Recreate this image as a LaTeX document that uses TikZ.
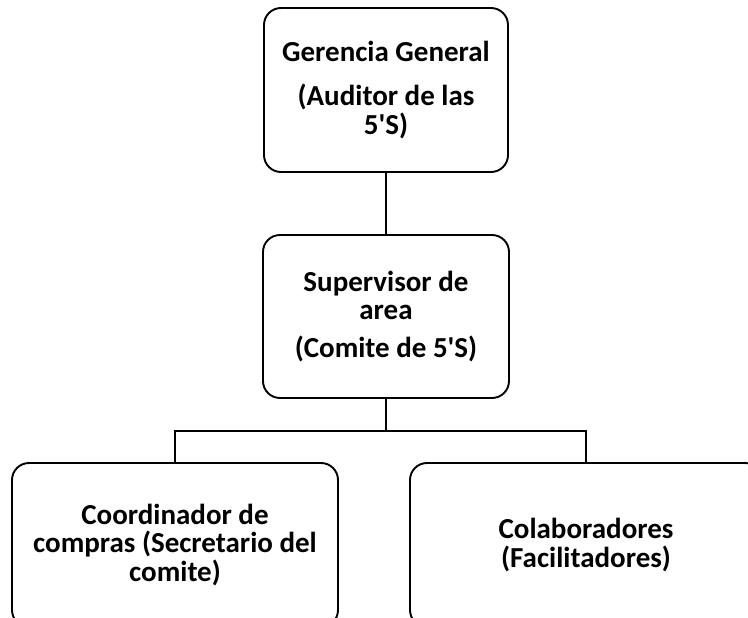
\documentclass[tikz,border=0pt]{standalone}
\usepackage{fontspec}
\setmainfont{Carlito}[Ligatures=TeXOff]
\begin{document}
\begin{tikzpicture}[x=1pt,y=-1pt,
  box/.style={draw=black,line width=1.9pt,rounded corners=17pt,rectangle,
    align=center,inner sep=0pt,
    font=\fontsize{29}{28.5}\selectfont\bfseries},
  link/.style={draw=black,line width=1.9pt}]
\useasboundingbox (0,0) rectangle (748,618);
\clip (0,0) rectangle (748,618);
\fill[white] (0,0) rectangle (748,618);
\node[box,minimum width=244pt,minimum height=164pt] (top) at (386,90)
  {Gerencia General\\[16pt](Auditor de las\\5'S)};
\node[box,minimum width=246pt,minimum height=163pt] (mid) at (386,316.5)
  {Supervisor de\\area\\[9pt](Comite de 5'S)};
\node[box,minimum width=326pt,minimum height=164pt] (left) at (175,545)
  {Coordinador de\\compras (Secretario del\\comite)};
\node[box,minimum width=352pt,minimum height=164pt] (right) at (586,545)
  {Colaboradores\\(Facilitadores)};
\coordinate (bus) at (386,431);
\draw[link] (top.south) -- (mid.north);
\draw[link] (mid.south) -- (bus);
\draw[link] (left.north) |- (bus) -| (right.north);
\end{tikzpicture}
\end{document}
